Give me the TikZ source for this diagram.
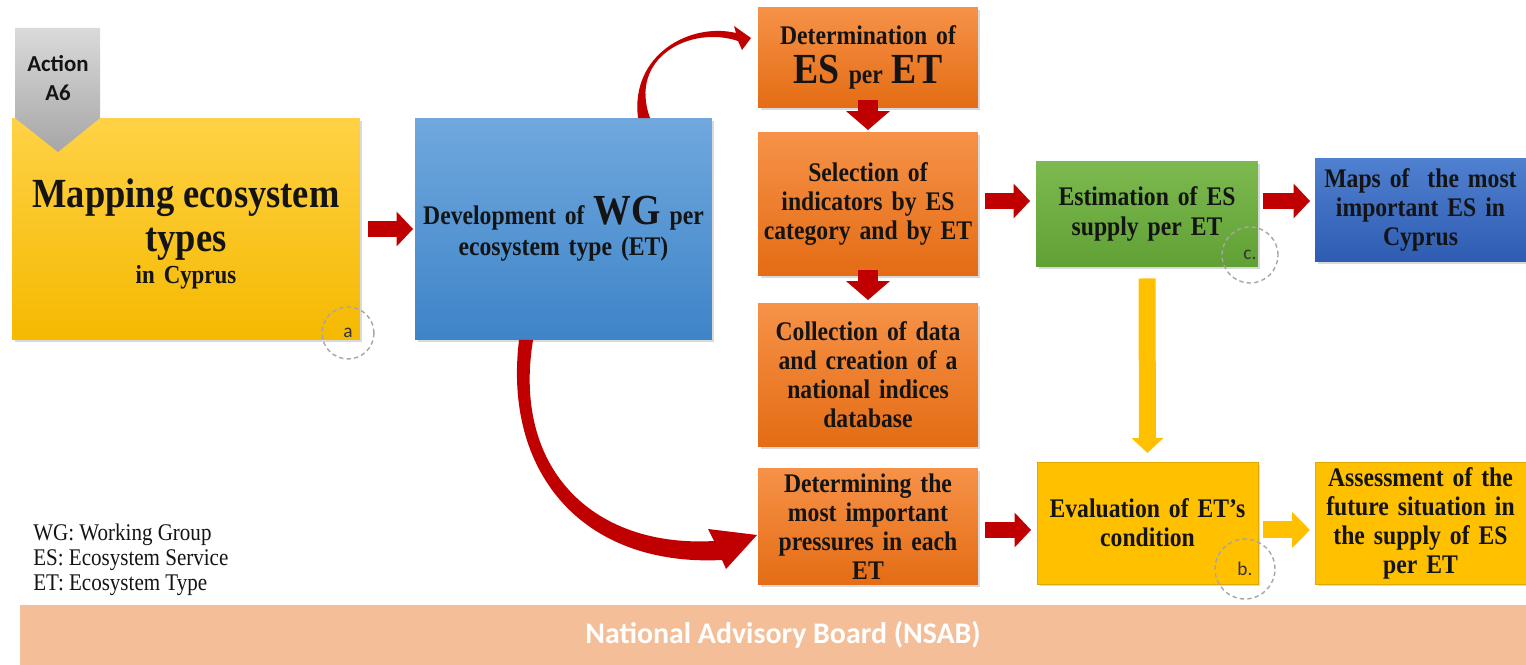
\documentclass[tikz,border=0pt]{standalone}
\usepackage{fontspec}
\setmainfont{Liberation Serif}[FakeStretch=0.88]
\newfontfamily\calib{Carlito}
\usetikzlibrary{arrows.meta,shadows,calc}

\definecolor{arrred}{RGB}{192,0,0}
\definecolor{ylw}{RGB}{255,192,0}
\definecolor{ylwtop}{RGB}{255,210,70}
\definecolor{ylwbot}{RGB}{245,185,0}
\definecolor{bluetop}{RGB}{112,168,222}
\definecolor{bluebot}{RGB}{62,132,200}
\definecolor{orgtop}{RGB}{246,146,72}
\definecolor{orgbot}{RGB}{228,108,20}
\definecolor{grntop}{RGB}{124,186,80}
\definecolor{grnbot}{RGB}{96,160,52}
\definecolor{dbtop}{RGB}{80,128,208}
\definecolor{dbbot}{RGB}{46,92,178}
\definecolor{salmon}{RGB}{244,190,152}
\definecolor{grytop}{RGB}{218,218,218}
\definecolor{grybot}{RGB}{166,166,166}
\definecolor{txt}{RGB}{20,20,20}

\newcommand\bt{\fontsize{15.3}{16.5}\selectfont\bfseries}
\newcommand\lrg[1]{{\fontsize{24.4}{26}\selectfont #1}}

\begin{document}
\begin{tikzpicture}[x=0.02cm,y=-0.02cm,
  shd/.style={drop shadow={opacity=0.3,shadow xshift=0.05cm,shadow yshift=-0.05cm}},
  boxbase/.style={shd,inner sep=0,outer sep=0,align=center,text=txt,font=\bt},
  orgbox/.style={boxbase,top color=orgtop,bottom color=orgbot,minimum width=4.4cm,text width=4.3cm},
  harr/.style={draw=arrred,line width=0.32cm,-{Triangle[length=0.33cm,width=0.68cm]}},
  varr/.style={draw=arrred,line width=0.4cm,-{Triangle[length=0.38cm,width=0.86cm]}},
  yvarr/.style={draw=ylw,line width=0.34cm,-{Triangle[length=0.3cm,width=0.62cm]}},
  yharr/.style={draw=ylw,line width=0.34cm,-{Triangle[length=0.36cm,width=0.7cm]}},
  mark circle/.style={circle,draw=gray!70,dash pattern=on 2.5pt off 1.8pt,line width=0.8pt,
     inner sep=0,font=\calib\fontsize{11}{13}\selectfont,text=black!80}]
\useasboundingbox (0,0) rectangle (1526,665);

% boxes
\node[boxbase,top color=ylwtop,bottom color=ylwbot,minimum width=6.96cm,minimum height=4.44cm,text width=6.8cm]
  (map) at (186,229) {\rule{0pt}{22pt}\fontsize{23.6}{24.8}\selectfont Mapping ecosystem\\types\\[2pt]{\fontsize{14.8}{16}\selectfont in Cyprus}};
\node[boxbase,top color=bluetop,bottom color=bluebot,minimum width=5.94cm,minimum height=4.44cm,text width=5.8cm,
  font=\fontsize{15.3}{17.5}\selectfont\bfseries]
  (wg) at (563.5,229) {Development of \lrg{WG} per\\ecosystem type (ET)};
\node[orgbox,minimum height=2.02cm] (o1) at (868,57.5) {Determination of\\[6pt]\lrg{ES} per \lrg{ET}};
\node[orgbox,minimum height=2.88cm] (o2) at (868,204) {Selection of\\indicators by ES\\category and by ET};
\node[orgbox,minimum height=2.88cm] (o3) at (868,375) {Collection of data\\and creation of a\\national indices\\database};
\node[orgbox,minimum height=2.34cm] (o4) at (868,526.5) {Determining the\\most important\\pressures in each\\ET};
\node[boxbase,top color=grntop,bottom color=grnbot,minimum width=4.44cm,minimum height=2.1cm,text width=4.3cm,
  font=\fontsize{15.3}{17}\selectfont\bfseries]
  (grn) at (1147,214) {Estimation of ES\\supply per ET};
\node[boxbase,top color=dbtop,bottom color=dbbot,minimum width=4.22cm,minimum height=2.08cm,text width=4.1cm]
  (maps) at (1420.5,210) {Maps of \ the most\\important ES in\\Cyprus};
\node[boxbase,fill=ylw,draw=ylw!88!black,line width=0.4pt,minimum width=4.42cm,minimum height=2.44cm,text width=4.3cm]
  (eval) at (1147.5,523) {Evaluation of ET’s\\condition};
\node[boxbase,fill=ylw,draw=ylw!88!black,line width=0.4pt,minimum width=4.22cm,minimum height=2.44cm,text width=4.1cm]
  (assess) at (1420.5,523) {Assessment of the\\future situation in\\the supply of ES\\per ET};

% Action tag
\shade[top color=grytop,bottom color=grybot] (15,28) -- (100,28) -- (100,118) -- (58,152) -- (15,118) -- cycle;
\node[inner sep=0,align=center,text=txt,font=\calib\bfseries\fontsize{13}{16.5}\selectfont] (act) at (58,78) {Action\\A6};

% marker circles
\node[mark circle,minimum size=1.04cm] (ca) at (348,333) {a};
\node[mark circle,minimum size=1.12cm] (cc) at (1250,255) {c.};
\node[mark circle,minimum size=1.2cm] (cb) at (1245,569) {b.};

% legend
\node[anchor=west,align=left,inner sep=0,text=txt,font=\fontsize{13.6}{14.2}\selectfont] (leg) at (33,560)
  {WG: Working Group\\ES: Ecosystem Service\\ET: Ecosystem Type};

% NSAB band
\node[fill=salmon,minimum width=30.52cm,minimum height=1.2cm,inner sep=0,text=white,
  font=\calib\bfseries\fontsize{17}{20}\selectfont] (nsab) at (783,635) {National Advisory Board (NSAB)};

% straight block arrows
\draw[harr,shorten <=0.16cm,shorten >=0.04cm] (map.east) -- (wg.west);
\draw[varr,shorten <=-0.16cm,shorten >=0.04cm] (o1.south) -- (o2.north);
\draw[varr,shorten <=-0.12cm,shorten >=0.06cm] (o2.south) -- (o3.north);
\coordinate (r1) at ([yshift=0.26cm]grn.west);
\draw[harr,shorten <=0.14cm,shorten >=0.12cm] (o2.east |- r1) -- (r1);
\draw[harr,shorten <=0.1cm,shorten >=0.1cm] (r1 -| grn.east) -- (r1 -| maps.west);
\draw[yvarr,shorten <=0.24cm,shorten >=0.18cm] (grn.south) -- (eval.north);
\coordinate (r2) at ([yshift=-0.14cm]eval.west);
\draw[harr,shorten <=0.14cm,shorten >=0.12cm] (o4.east |- r2) -- (r2);
\draw[yharr,shorten <=0.1cm,shorten >=0.1cm] (r2 -| eval.east) -- (r2 -| assess.west);

% curved tapered arrows
\fill[arrred] ($(wg.north west)+(223,0)$) .. controls (630,55) and (690,22) .. ($(o1.west)+(-22,-24.5)$)
  -- ($(o1.west)+(-24,-31.5)$) -- ($(o1.west)+(-7,-19.5)$) -- ($(o1.west)+(-16,-7.5)$)
  -- ($(o1.west)+(-20,-16.5)$) .. controls (690,25) and (628,58) .. ($(wg.north west)+(235,0)$) -- cycle;
\fill[arrred] ($(wg.south west)+(104,0)$) .. controls (503,470) and (580,567) .. ($(o4.west)+(-36,33.5)$)
  -- ($(o4.west)+(-32,42.5)$) -- ($(o4.west)+(-1,8.5)$) -- ($(o4.west)+(-50,2.5)$)
  -- ($(o4.west)+(-44,14.5)$) .. controls (592,548) and (512,468) .. ($(wg.south west)+(118,0)$) -- cycle;
\end{tikzpicture}
\end{document}
